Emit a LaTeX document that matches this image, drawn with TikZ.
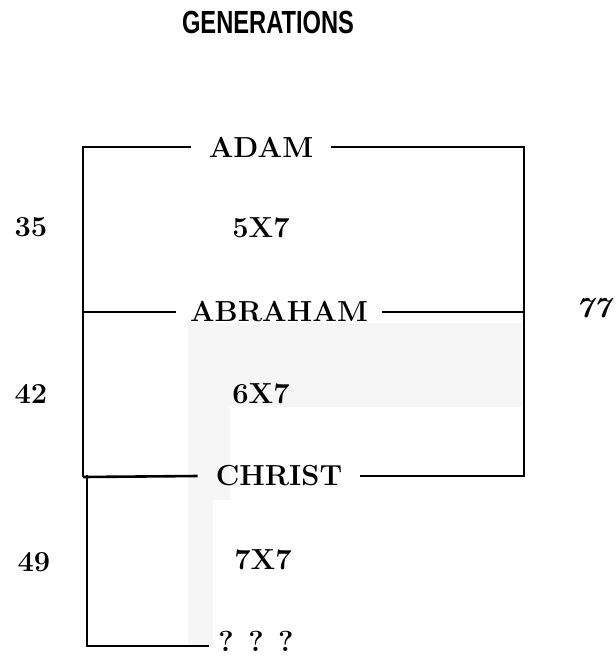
\documentclass[tikz,border=0pt]{standalone}
\usepackage{fontspec}
\newfontfamily\headfont{Liberation Sans}
\usetikzlibrary{positioning}
\tikzset{patriarch/.style={font=\fontsize{29}{34}\selectfont\bfseries, inner xsep=18pt, inner ysep=0pt},
  factor/.style={font=\fontsize{29}{34}\selectfont\bfseries, inner sep=0pt},
  count/.style={font=\fontsize{29}{34}\selectfont\bfseries, inner sep=0pt},
  bar/.style={line width=2.6pt}}

\begin{document}
\begin{tikzpicture}[x=1pt, y=-1pt]
    \useasboundingbox (0,0) rectangle (616,659);
    % faint shading of the scan
    \fill[gray!7] (188,323) rectangle (522,407);
    \fill[gray!7] (188,407) rectangle (230,500);
    \fill[gray!7] (188,500) rectangle (213,646);

    % title
    \node[inner sep=0pt] (title) at (268,22) {\scalebox{0.74}[1]{\headfont\fontsize{32}{36}\selectfont\bfseries GENERATIONS}};

    % names on the lines
    \node[patriarch] (adam) at (261,147) {ADAM};
    \node[patriarch, inner xsep=14pt] (abraham) at (279,312) {ABRAHAM};
    \node[patriarch] (christ) at (279,476) {CHRIST};
    \node[factor, inner xsep=9pt] (qqq) at (256,641) {? ? ?};

    % factors
    \node[factor] (f5) at (261,228) {5X7};
    \node[factor] (f6) at (261,394) {6X7};
    \node[factor] (f7) at (263,560) {7X7};

    % counts
    \node[count] (c35) at (31,227) {35};
    \node[count] (c42) at (31,394) {42};
    \node[count] (c49) at (34,562) {49};
    \node[count, font=\fontsize{29}{34}\selectfont\bfseries\itshape] (c77) at (593,308) {77};

    % corners
    \coordinate (adamL) at (83,147);
    \coordinate (adamR) at (524,147);
    \coordinate (abrL) at (83,312);
    \coordinate (abrR) at (524,312);
    \coordinate (chrL) at (83,477);
    \coordinate (chrR) at (524,476);
    \coordinate (lowL) at (87,475);
    \coordinate (endL) at (87,646);

    % brackets
    \draw[bar] (adam.west) -- (adamL) -- (chrL);
    \draw[bar] (adam.east) -- (adamR) -- (chrR) -- (christ.east);
    \draw[bar] (abrL) -- (abraham.west);
    \draw[bar] (abraham.east) -- (abrR);
    \draw[bar] (christ.west) -- (chrL);
    \draw[bar] (lowL) -- (endL) -- (endL -| qqq.west);
\end{tikzpicture}
\end{document}
